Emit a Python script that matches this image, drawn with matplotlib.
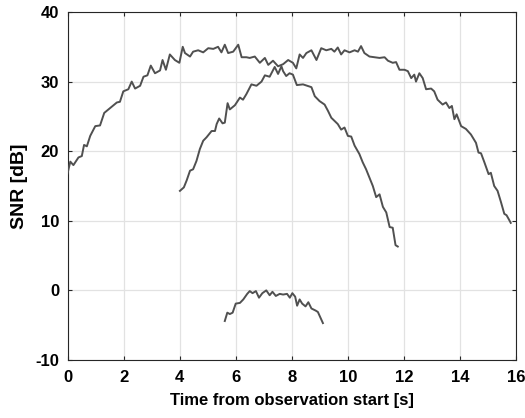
import matplotlib
matplotlib.use('Agg')
import matplotlib.pyplot as plt

# SNR traces (time in s, SNR in dB)
t_long = [0.00, 0.10, 0.21, 0.39, 0.51, 0.59, 0.69, 0.81, 0.99, 1.16,
          1.31, 1.52, 1.76, 1.87, 1.99, 2.17, 2.29, 2.41, 2.59, 2.71,
          2.85, 2.97, 3.12, 3.30, 3.39, 3.51, 3.65, 3.83, 3.99, 4.11,
          4.19, 4.37, 4.48, 4.66, 4.84, 5.02, 5.20, 5.37, 5.49, 5.61,
          5.73, 5.91, 6.09, 6.21, 6.38, 6.50, 6.68, 6.86, 7.04, 7.16,
          7.33, 7.51, 7.69, 7.87, 8.04, 8.16, 8.28, 8.40, 8.52, 8.70,
          8.88, 9.05, 9.23, 9.41, 9.52, 9.64, 9.76, 9.88, 10.06, 10.24,
          10.36, 10.47, 10.59, 10.77, 10.95, 11.13, 11.31, 11.43, 11.60, 11.72,
          11.84, 12.02, 12.14, 12.26, 12.37, 12.43, 12.55, 12.67, 12.79, 12.97,
          13.08, 13.20, 13.38, 13.50, 13.62, 13.71, 13.80, 13.88, 14.04, 14.21,
          14.39, 14.57, 14.66, 14.75, 14.87, 15.02, 15.10, 15.22, 15.34, 15.46,
          15.58, 15.66, 15.73, 15.81]
snr_long = [16.8, 18.5, 18.0, 19.1, 19.3, 20.9, 20.7, 22.2, 23.6, 23.7,
            25.5, 26.2, 27.0, 27.1, 28.6, 28.9, 30.0, 29.0, 29.4, 30.7,
            30.9, 32.3, 31.2, 31.6, 33.1, 31.7, 33.9, 33.1, 32.7, 35.0,
            34.1, 33.6, 34.3, 34.5, 34.2, 34.8, 34.7, 35.0, 34.2, 35.3,
            34.1, 34.3, 35.3, 33.5, 33.5, 33.4, 33.6, 32.7, 33.4, 32.4,
            33.0, 32.2, 32.5, 33.1, 32.7, 31.9, 33.9, 33.4, 34.1, 34.5,
            33.1, 34.8, 34.5, 34.7, 34.3, 34.9, 33.9, 34.5, 34.2, 34.5,
            34.3, 35.1, 34.1, 33.6, 33.5, 33.4, 33.5, 33.0, 32.7, 32.8,
            31.7, 31.7, 31.5, 30.5, 31.0, 30.0, 31.2, 30.5, 28.9, 29.0,
            28.6, 27.4, 26.7, 27.0, 26.2, 26.5, 24.6, 25.3, 23.6, 23.2,
            22.4, 21.2, 19.8, 19.7, 18.4, 16.7, 16.9, 15.0, 14.3, 12.7,
            11.0, 10.8, 10.3, 9.7]

t_mid = [4.01, 4.15, 4.25, 4.37, 4.48, 4.60, 4.72, 4.84, 4.96, 5.14,
         5.26, 5.32, 5.41, 5.53, 5.61, 5.71, 5.79, 5.97, 6.15, 6.26,
         6.38, 6.56, 6.74, 6.92, 7.04, 7.21, 7.39, 7.51, 7.63, 7.69,
         7.80, 7.92, 8.04, 8.18, 8.40, 8.70, 8.82, 8.99, 9.17, 9.29,
         9.41, 9.64, 9.76, 9.88, 10.00, 10.12, 10.24, 10.41, 10.53, 10.65,
         10.77, 10.89, 11.01, 11.13, 11.25, 11.37, 11.49, 11.60, 11.70, 11.78]
snr_mid = [14.3, 14.8, 15.8, 17.2, 17.4, 18.6, 20.3, 21.5, 22.0, 22.9,
           22.9, 23.9, 24.7, 24.0, 24.1, 26.9, 26.0, 26.6, 27.7, 27.4,
           28.2, 29.6, 29.4, 30.0, 30.9, 30.7, 32.1, 31.1, 32.2, 31.5,
           30.8, 31.2, 31.0, 29.5, 29.6, 29.2, 27.9, 27.2, 26.7, 25.8,
           24.8, 23.9, 23.1, 23.4, 22.2, 22.1, 20.8, 19.6, 18.4, 17.4,
           16.2, 15.0, 13.4, 13.8, 12.0, 11.2, 9.1, 9.0, 6.5, 6.3]

t_low = [5.61, 5.70, 5.79, 5.89, 6.00, 6.15, 6.27, 6.41, 6.50, 6.60,
         6.72, 6.83, 6.95, 7.09, 7.21, 7.31, 7.43, 7.57, 7.69, 7.83,
         7.93, 8.02, 8.12, 8.19, 8.28, 8.37, 8.49, 8.59, 8.70, 8.85,
         8.93, 9.02, 9.11]
snr_low = [-4.4, -3.2, -3.4, -3.2, -1.9, -1.8, -1.3, -0.5, -0.1, -0.4,
           -0.1, -1.05, -0.4, 0.0, -0.7, -0.2, -0.8, -0.5, -0.6, -0.5,
           -1.05, -0.4, -0.9, -2.2, -1.3, -1.9, -2.3, -1.7, -2.6, -2.9,
           -3.1, -3.9, -4.7]

x_ticks = [0, 2, 4, 6, 8, 10, 12, 14, 16]
y_ticks = [-10, 0, 10, 20, 30, 40]

plt.rcParams['font.family'] = ['Liberation Sans', 'DejaVu Sans']
plt.rcParams['font.weight'] = 'bold'
plt.rcParams['axes.unicode_minus'] = False

fig = plt.figure(figsize=(5.25, 4.18), dpi=100)
ax = fig.add_axes([0.1286, 0.1388, 0.8544, 0.8325])

line_color = '#505050'
for t, s in [(t_long, snr_long), (t_mid, snr_mid), (t_low, snr_low)]:
    ax.plot(t, s, color=line_color, linewidth=1.4, zorder=3)

ax.set_xlim(0, 16)
ax.set_ylim(-10, 40)
ax.set_xticks(x_ticks)
ax.set_yticks(y_ticks)
ax.grid(True, color='#e2e2e2', linewidth=0.9)
ax.set_axisbelow(True)

for sp in ax.spines.values():
    sp.set_color('#262626')
    sp.set_linewidth(0.8)
ax.tick_params(direction='in', length=3, width=0.8, top=True, right=True,
               labelsize=12, colors='#262626')
ax.tick_params(axis='x', pad=7)
ax.tick_params(axis='y', pad=6)
for lab in ax.get_xticklabels() + ax.get_yticklabels():
    lab.set_fontweight('bold')
    lab.set_color('black')

ax.set_xlabel('Time from observation start [s]', fontsize=12, fontweight='bold', labelpad=6)
ax.set_ylabel('SNR [dB]', fontsize=14, fontweight='bold')
ax.yaxis.set_label_coords(-0.089, 0.5)

fig.savefig('out.png', dpi=100)
